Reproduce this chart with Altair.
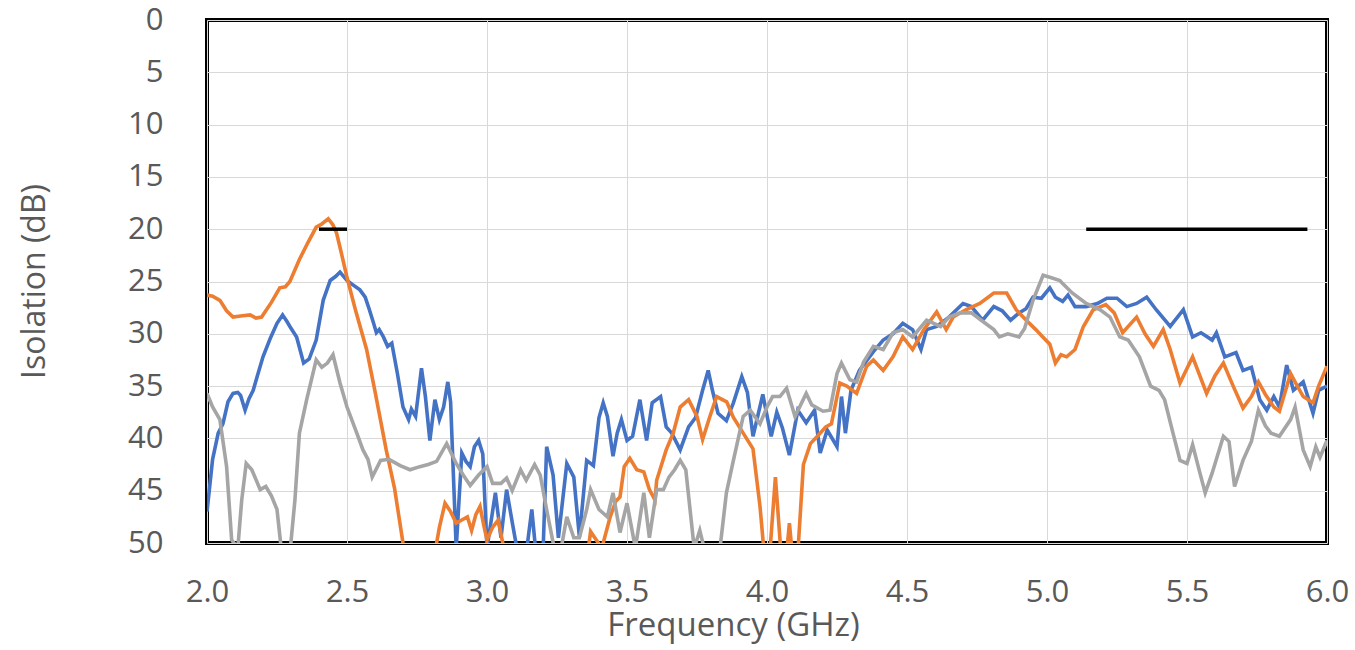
import altair as alt
import pandas as pd

# ---------------- data ----------------
blue_freq = [2.00, 2.02, 2.04, 2.057, 2.075, 2.093, 2.11, 2.12, 2.136, 2.15, 2.165, 2.18, 2.20, 2.225, 2.25,
             2.27, 2.285, 2.296, 2.32, 2.345, 2.365, 2.39, 2.415, 2.44, 2.46, 2.475, 2.50, 2.52, 2.546, 2.565,
             2.58, 2.595, 2.605, 2.615, 2.63, 2.645, 2.66, 2.68, 2.70, 2.72, 2.73, 2.745, 2.766, 2.78, 2.796,
             2.814, 2.83, 2.845, 2.86, 2.87, 2.89, 2.91, 2.925, 2.94, 2.955, 2.97, 2.985, 3.00, 3.03, 3.05,
             3.07, 3.09, 3.11, 3.14, 3.16, 3.175, 3.20, 3.213, 3.236, 3.255, 3.285, 3.31, 3.33, 3.356, 3.38,
             3.40, 3.415, 3.43, 3.45, 3.465, 3.48, 3.50, 3.52, 3.546, 3.57, 3.59, 3.62, 3.64, 3.66, 3.69,
             3.72, 3.745, 3.77, 3.79, 3.805, 3.825, 3.855, 3.88, 3.91, 3.93, 3.95, 3.985, 4.015, 4.035, 4.055,
             4.08, 4.11, 4.14, 4.17, 4.19, 4.215, 4.25, 4.266, 4.28, 4.30, 4.33, 4.38, 4.415, 4.45, 4.485,
             4.52, 4.55, 4.57, 4.606, 4.65, 4.70, 4.73, 4.77, 4.81, 4.84, 4.87, 4.90, 4.925, 4.95, 4.98,
             5.01, 5.03, 5.056, 5.075, 5.10, 5.14, 5.18, 5.214, 5.25, 5.285, 5.32, 5.356, 5.39, 5.44, 5.487,
             5.52, 5.55, 5.59, 5.605, 5.635, 5.675, 5.70, 5.73, 5.76, 5.785, 5.81, 5.83, 5.856, 5.88, 5.915,
             5.95, 5.97, 6.00]
blue_db = [47.0, 42.0, 39.5, 38.6, 36.5, 35.7, 35.6, 35.9, 37.3, 36.2, 35.4, 34.0, 32.2, 30.5, 29.0,
           28.2, 28.8, 29.3, 30.3, 32.8, 32.4, 30.6, 26.8, 24.9, 24.5, 24.1, 24.9, 25.3, 25.8, 26.5,
           27.7, 29.0, 29.9, 29.6, 30.3, 31.2, 30.9, 33.8, 37.0, 38.2, 37.2, 37.9, 33.3, 36.0, 40.2,
           36.3, 38.2, 37.0, 34.6, 36.5, 50.5, 41.4, 42.2, 42.7, 40.8, 40.2, 41.5, 50.5, 45.2, 49.5,
           44.9, 48.0, 51.0, 51.0, 46.8, 51.0, 51.0, 40.8, 43.5, 49.5, 42.4, 43.7, 49.4, 42.1, 42.6,
           38.0, 36.6, 37.9, 41.7, 39.5, 38.2, 40.2, 39.8, 36.3, 40.2, 36.6, 36.0, 38.9, 39.5, 41.1,
           38.9, 38.0, 35.4, 33.5, 35.4, 37.6, 38.3, 36.6, 34.1, 35.6, 39.8, 35.8, 39.8, 37.5, 39.0,
           41.6, 37.3, 38.5, 37.3, 41.4, 39.2, 40.8, 36.0, 39.5, 35.4, 33.5, 31.7, 30.6, 30.0, 29.0,
           29.6, 31.5, 29.6, 29.3, 28.4, 27.1, 27.4, 28.7, 27.4, 27.8, 28.7, 28.0, 27.6, 26.5, 26.6,
           25.6, 26.5, 26.9, 26.3, 27.4, 27.4, 27.1, 26.6, 26.6, 27.4, 27.1, 26.5, 27.7, 29.3, 27.7,
           30.3, 29.9, 30.6, 29.9, 32.2, 31.8, 33.5, 33.2, 36.3, 37.3, 36.0, 37.0, 33.0, 35.4, 34.6,
           37.6, 35.4, 35.0]

orange_freq = [2.00, 2.02, 2.046, 2.07, 2.093, 2.12, 2.154, 2.175, 2.195, 2.23, 2.26, 2.28, 2.296, 2.33,
               2.36, 2.39, 2.41, 2.433, 2.45, 2.463, 2.48, 2.499, 2.53, 2.57, 2.60, 2.64, 2.67, 2.70, 2.72,
               2.80, 2.83, 2.85, 2.87, 2.89, 2.91, 2.93, 2.945, 2.96, 2.975, 2.99, 3.00, 3.02, 3.04, 3.06,
               3.08, 3.35, 3.37, 3.41, 3.44, 3.46, 3.475, 3.49, 3.51, 3.535, 3.56, 3.58, 3.60, 3.606, 3.64,
               3.665, 3.69, 3.72, 3.75, 3.77, 3.796, 3.82, 3.856, 3.88, 3.915, 3.95, 3.975, 3.99, 4.01,
               4.03, 4.05, 4.07, 4.08, 4.09, 4.11, 4.13, 4.155, 4.18, 4.21, 4.23, 4.26, 4.285, 4.32, 4.356,
               4.38, 4.415, 4.45, 4.485, 4.52, 4.56, 4.606, 4.64, 4.665, 4.71, 4.76, 4.81, 4.856, 4.89,
               4.926, 4.96, 4.985, 5.01, 5.03, 5.05, 5.07, 5.10, 5.13, 5.165, 5.21, 5.24, 5.27, 5.32, 5.35,
               5.38, 5.415, 5.44, 5.475, 5.52, 5.57, 5.60, 5.63, 5.665, 5.70, 5.73, 5.755, 5.78, 5.81, 5.83,
               5.87, 5.89, 5.915, 5.95, 5.97, 6.00]
orange_db = [26.3, 26.4, 26.8, 27.8, 28.4, 28.3, 28.2, 28.5, 28.4, 27.0, 25.6, 25.5, 25.0, 22.9,
             21.3, 19.8, 19.5, 19.0, 19.6, 20.4, 22.3, 24.5, 27.7, 31.5, 35.5, 41.1, 44.8, 50.0, 53.0,
             53.0, 48.5, 46.2, 47.0, 48.1, 47.8, 47.5, 48.8, 47.3, 46.5, 48.5, 49.7, 48.5, 47.8, 50.5,
             53.0, 53.0, 48.9, 50.5, 47.5, 46.0, 45.6, 42.7, 41.9, 43.0, 43.2, 44.9, 45.9, 44.0, 41.1,
             39.5, 37.0, 36.3, 37.9, 40.1, 37.9, 36.0, 36.5, 38.0, 39.5, 41.0, 46.5, 51.0, 51.0,
             43.7, 51.0, 51.0, 48.1, 51.0, 51.0, 42.5, 40.5, 39.8, 38.9, 38.6, 34.7, 35.0, 35.7, 33.1,
             32.5, 33.5, 32.2, 30.3, 31.5, 29.6, 27.9, 29.6, 28.4, 27.7, 27.1, 26.1, 26.1, 27.7,
             28.7, 29.6, 30.3, 31.0, 32.8, 32.0, 32.2, 31.5, 29.3, 27.7, 27.2, 28.0, 29.9, 28.4, 30.0,
             31.2, 29.6, 31.5, 34.7, 32.2, 35.7, 34.0, 32.8, 35.0, 37.1, 36.0, 34.6, 35.8, 37.0, 37.4,
             33.8, 34.8, 36.0, 36.6, 35.0, 33.1]

gray_freq = [2.00, 2.02, 2.046, 2.07, 2.088, 2.11, 2.124, 2.14, 2.16, 2.19, 2.21, 2.23, 2.25, 2.267, 2.296,
             2.314, 2.33, 2.356, 2.39, 2.41, 2.43, 2.45, 2.475, 2.50, 2.535, 2.557, 2.575, 2.59, 2.62, 2.65,
             2.69, 2.725, 2.76, 2.79, 2.82, 2.856, 2.89, 2.915, 2.94, 2.97, 3.00, 3.02, 3.05, 3.07, 3.09,
             3.12, 3.14, 3.17, 3.19, 3.213, 3.24, 3.265, 3.285, 3.31, 3.33, 3.356, 3.37, 3.40, 3.43, 3.45,
             3.475, 3.50, 3.53, 3.56, 3.58, 3.606, 3.63, 3.65, 3.67, 3.69, 3.71, 3.74, 3.76, 3.78, 3.83,
             3.855, 3.88, 3.915, 3.94, 3.975, 4.00, 4.02, 4.046, 4.07, 4.10, 4.14, 4.16, 4.20, 4.225, 4.25,
             4.266, 4.296, 4.32, 4.345, 4.38, 4.415, 4.45, 4.485, 4.52, 4.57, 4.62, 4.65, 4.69, 4.73, 4.77,
             4.81, 4.83, 4.86, 4.90, 4.92, 4.95, 4.986, 5.01, 5.046, 5.056, 5.09, 5.14, 5.19, 5.225, 5.26,
             5.29, 5.33, 5.37, 5.40, 5.42, 5.45, 5.475, 5.50, 5.52, 5.546, 5.565, 5.59, 5.63, 5.65, 5.67,
             5.70, 5.73, 5.755, 5.78, 5.80, 5.83, 5.87, 5.886, 5.915, 5.94, 5.96, 5.975, 6.00]
gray_db = [35.7, 37.0, 38.2, 42.7, 49.7, 50.5, 45.9, 42.4, 43.0, 44.9, 44.6, 45.5, 46.8, 51.0, 51.0,
           45.9, 39.5, 36.3, 32.5, 33.2, 32.8, 32.0, 34.7, 37.0, 39.5, 41.1, 42.0, 43.7, 42.1, 42.0,
           42.6, 43.0, 42.7, 42.5, 42.2, 40.5, 42.4, 43.5, 44.5, 43.5, 42.7, 44.3, 44.3, 43.8, 45.0,
           43.0, 44.0, 42.5, 43.5, 46.8, 50.5, 50.5, 47.5, 49.5, 49.5, 46.8, 44.9, 46.8, 47.5, 45.2,
           49.0, 46.2, 50.5, 45.2, 49.5, 44.9, 44.9, 43.7, 43.0, 42.1, 43.0, 50.5, 48.8, 51.0, 51.0,
           45.2, 42.1, 37.9, 37.3, 38.6, 37.0, 36.0, 36.0, 35.2, 37.9, 35.7, 36.8, 37.4, 37.3, 33.8,
           32.8, 34.4, 34.6, 32.7, 31.2, 31.5, 29.9, 29.6, 30.3, 28.7, 29.3, 28.4, 28.0, 28.0, 28.8,
           29.6, 30.3, 30.0, 30.3, 29.5, 26.8, 24.4, 24.6, 24.9, 25.2, 26.1, 27.1, 27.7, 28.4, 30.3,
           30.6, 32.2, 35.0, 35.4, 36.3, 39.5, 42.1, 42.4, 40.6, 43.3, 45.2, 43.3, 39.8, 40.3, 44.6,
           42.1, 40.3, 37.3, 38.8, 39.5, 39.8, 38.2, 37.0, 41.1, 42.7, 40.8, 41.8, 40.2]

limit_start = [2.40, 5.14]
limit_end = [2.50, 5.93]
limit_db = [20, 20]

series_names = ["A", "B", "C"]
series_colors = ["#4472C4", "#ED7D31", "#A5A5A5"]
x_ticks = [2.0, 2.5, 3.0, 3.5, 4.0, 4.5, 5.0, 5.5, 6.0]
y_ticks = [0, 5, 10, 15, 20, 25, 30, 35, 40, 45, 50]

# ---------------- build tables ----------------
rows = []
for name, fr, db in zip(series_names, [blue_freq, orange_freq, gray_freq], [blue_db, orange_db, gray_db]):
    for i, (f, d) in enumerate(zip(fr, db)):
        rows.append({"series": name, "freq": f, "db": d, "order": i})
df = pd.DataFrame(rows)
limits = pd.DataFrame({"x1": limit_start, "x2": limit_end, "y": limit_db})

FONT = "Open Sans"
TXT = "#595959"

xscale = alt.Scale(domain=[2, 6], nice=False, zero=False)
yscale = alt.Scale(domain=[0, 50], reverse=True, nice=False, zero=False)

xaxis = alt.Axis(values=x_ticks, format=".1f", title="Frequency (GHz)", grid=True, gridColor="#d9d9d9",
                 ticks=False, domain=False, labelPadding=34, labelFontSize=31, labelColor=TXT,
                 labelFont=FONT, titleFont=FONT, titleFontSize=33, titleColor=TXT, titleFontWeight="normal",
                 titleX=526, titleY=92, titleBaseline="alphabetic", titleAnchor="start", titleAlign="center",
                 labelFlush=False, labelOverlap=False)
yaxis = alt.Axis(values=y_ticks, title="Isolation (dB)", grid=True, gridColor="#d9d9d9",
                 ticks=False, domain=False, labelPadding=44, labelFontSize=31, labelColor=TXT,
                 labelFont=FONT, titleFont=FONT, titleFontSize=32, titleColor=TXT, titleFontWeight="normal",
                 titleX=-173, titleY=261, titleBaseline="middle", titleAlign="center", titleAngle=-90,
                 labelOverlap=False)

lines = alt.Chart(df).mark_line(strokeWidth=3.6, clip=True).encode(
    x=alt.X("freq:Q", scale=xscale, axis=xaxis),
    y=alt.Y("db:Q", scale=yscale, axis=yaxis),
    color=alt.Color("series:N", scale=alt.Scale(domain=series_names, range=series_colors), legend=None),
    order="order:Q",
)

rules = alt.Chart(limits).mark_rule(color="black", strokeWidth=3.5).encode(
    x=alt.X("x1:Q", scale=xscale),
    x2="x2:Q",
    y=alt.Y("y:Q", scale=yscale),
)

chart = alt.layer(lines, rules).properties(
    width=1120, height=523,
    autosize=alt.AutoSizeParams(type="none"),
    padding={"left": 207, "top": 20, "right": 28, "bottom": 107},
    background="white",
).configure_view(stroke="black", strokeWidth=4)

chart.save("out.html", embed_options={"renderer": "svg", "actions": False})
